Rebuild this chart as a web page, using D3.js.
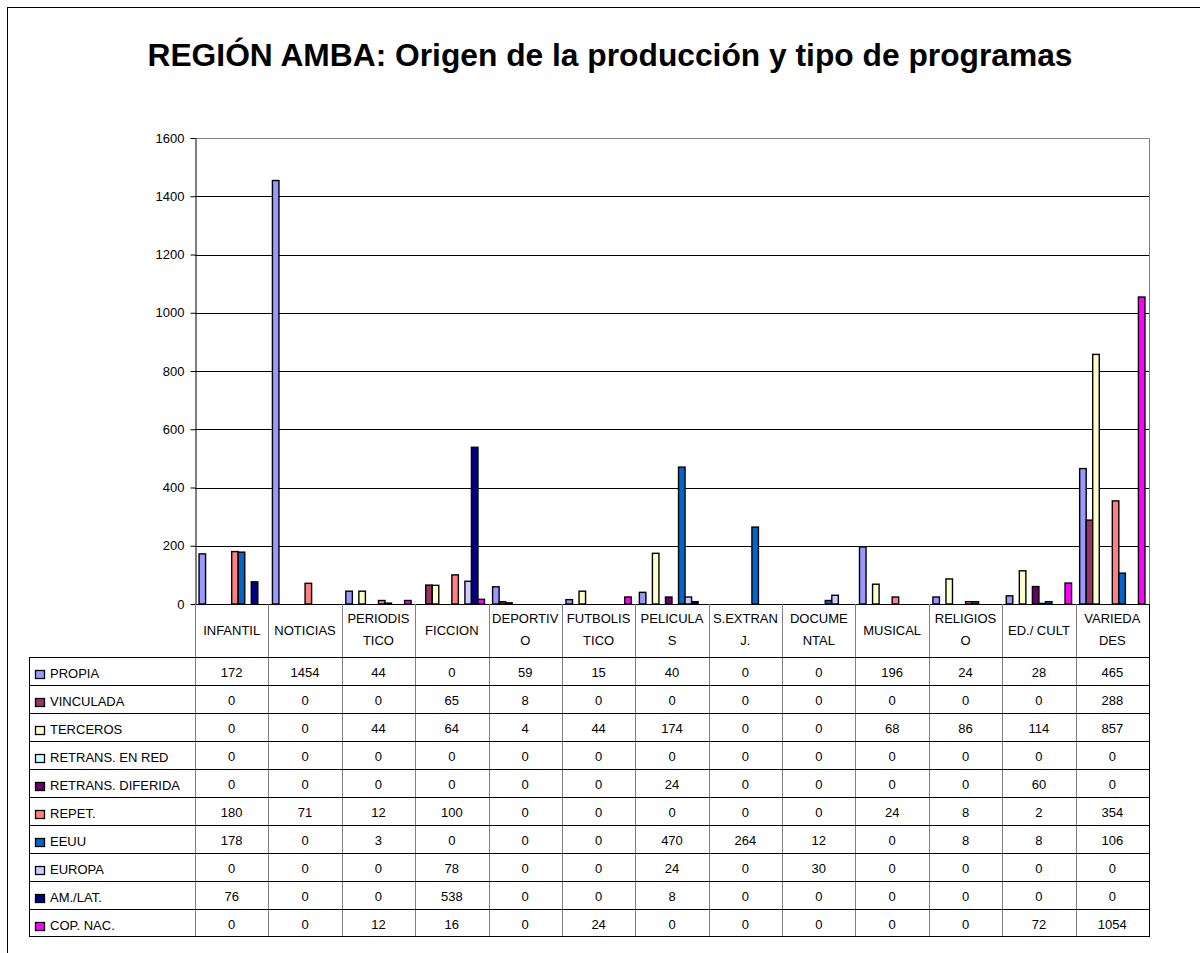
<!DOCTYPE html>
<html>
<head>
<meta charset="utf-8">
<script src="https://cdn.jsdelivr.net/npm/d3@7"></script>
<style>
  body { margin: 0; background: #fff; }
  text { font-family: "Liberation Sans", Arial, sans-serif; }
</style>
</head>
<body>
<div id="chart"></div>
<script>
var categories = ["INFANTIL", "NOTICIAS", "PERIODISTICO", "FICCION", "DEPORTIVO", "FUTBOLISTICO",
  "PELICULAS", "S.EXTRANJ.", "DOCUMENTAL", "MUSICAL", "RELIGIOSO", "ED./ CULT", "VARIEDADES"];
var categoryLines = [["INFANTIL"], ["NOTICIAS"], ["PERIODIS", "TICO"], ["FICCION"], ["DEPORTIV", "O"],
  ["FUTBOLIS", "TICO"], ["PELICULA", "S"], ["S.EXTRAN", "J."], ["DOCUME", "NTAL"], ["MUSICAL"],
  ["RELIGIOS", "O"], ["ED./ CULT"], ["VARIEDA", "DES"]];

var seriesNames = ["PROPIA", "VINCULADA", "TERCEROS", "RETRANS. EN RED", "RETRANS. DIFERIDA",
  "REPET.", "EEUU", "EUROPA", "AM./LAT.", "COP. NAC."];
var seriesColors = ["#9999ff", "#993366", "#ffffcc", "#ccffff", "#660066",
  "#ff8080", "#0066cc", "#ccccff", "#000080", "#ff00ff"];

var propia = [172, 1454, 44, 0, 59, 15, 40, 0, 0, 196, 24, 28, 465];
var vinculada = [0, 0, 0, 65, 8, 0, 0, 0, 0, 0, 0, 0, 288];
var terceros = [0, 0, 44, 64, 4, 44, 174, 0, 0, 68, 86, 114, 857];
var retransRed = [0, 0, 0, 0, 0, 0, 0, 0, 0, 0, 0, 0, 0];
var retransDiferida = [0, 0, 0, 0, 0, 0, 24, 0, 0, 0, 0, 60, 0];
var repet = [180, 71, 12, 100, 0, 0, 0, 0, 0, 24, 8, 2, 354];
var eeuu = [178, 0, 3, 0, 0, 0, 470, 264, 12, 0, 8, 8, 106];
var europa = [0, 0, 0, 78, 0, 0, 24, 0, 30, 0, 0, 0, 0];
var amLat = [76, 0, 0, 538, 0, 0, 8, 0, 0, 0, 0, 0, 0];
var copNac = [0, 0, 12, 16, 0, 24, 0, 0, 0, 0, 0, 72, 1054];

var yTicks = [0, 200, 400, 600, 800, 1000, 1200, 1400, 1600];

var allSeries = [propia, vinculada, terceros, retransRed, retransDiferida, repet, eeuu, europa, amLat, copNac];

// page and plot area
var svgWidth = 1200;
var svgHeight = 953;
var plot = { left: 195, right: 1149, top: 138, bottom: 604 };
var tableLeft = 29;
var headerBottom = 657;
var rowHeight = 28;
var fontSize = 13;

var svg = d3.select("#chart")
  .append("svg")
  .attr("width", svgWidth)
  .attr("height", svgHeight);

// outer chart frame (runs off the right and bottom of the picture)
svg.append("rect")
  .attr("x", 7.5)
  .attr("y", 7.5)
  .attr("width", 1220)
  .attr("height", 980)
  .attr("fill", "#fff")
  .attr("stroke", "#000")
  .attr("stroke-width", 1);

// title
var title = svg.append("text")
  .attr("x", 610)
  .attr("y", 66)
  .attr("text-anchor", "middle")
  .attr("font-weight", "bold")
  .attr("font-size", 26)
  .text("REGIÓN AMBA: Origen de la producción y tipo de programas");
// fit the title to its width in the reference
var tw = title.node().getComputedTextLength();
title.attr("font-size", 26 * 925 / tw);

// scales
var xScale = d3.scaleBand()
  .domain(categories)
  .range([plot.left, plot.right])
  .padding(0);

var xInner = d3.scaleBand()
  .domain(d3.range(seriesNames.length))
  .range([0, xScale.bandwidth()])
  .paddingInner(0)
  .paddingOuter(0.62);

var yScale = d3.scaleLinear()
  .domain([0, 1600])
  .range([plot.bottom, plot.top]);

// gridlines
svg.append("g")
  .selectAll("line")
  .data(yTicks.filter(d => d > 0 && d < 1600))
  .enter()
  .append("line")
  .attr("x1", plot.left)
  .attr("x2", plot.right)
  .attr("y1", d => Math.round(yScale(d)) + 0.5)
  .attr("y2", d => Math.round(yScale(d)) + 0.5)
  .attr("stroke", "#000");

// plot area border (top and right, gray)
svg.append("path")
  .attr("d", `M${plot.left},${plot.top + 0.5}H${plot.right + 0.5}V${plot.bottom}`)
  .attr("fill", "none")
  .attr("stroke", "#808080");

// bars
var barGroups = svg.append("g")
  .selectAll("g")
  .data(allSeries)
  .enter()
  .append("g")
  .attr("fill", (d, i) => seriesColors[i]);

barGroups.each(function(values, si) {
  d3.select(this).selectAll("rect")
    .data(values.map((v, ci) => ({ v: v, c: categories[ci] })).filter(d => d.v > 0))
    .enter()
    .append("rect")
    .attr("x", d => xScale(d.c) + xInner(si))
    .attr("y", d => yScale(d.v))
    .attr("width", xInner.bandwidth())
    .attr("height", d => Math.max(0.5, yScale(0) - yScale(d.v)))
    .attr("stroke", "#000")
    .attr("stroke-width", 1.4);
});

// y axis
var leftAxis = d3.axisLeft(yScale)
  .tickValues(yTicks)
  .tickSize(5)
  .tickSizeOuter(0)
  .tickPadding(6)
  .tickFormat(d3.format("d"));

var yAxis = svg.append("g")
  .attr("transform", `translate(${plot.left + 0.5}, 0)`)
  .call(leftAxis);
yAxis.selectAll("text")
  .attr("font-size", fontSize)
  .attr("font-family", "Liberation Sans, Arial, sans-serif")
  .attr("fill", "#000");
yAxis.selectAll("line, path").attr("stroke", "#000");

// x axis line
svg.append("line")
  .attr("x1", plot.left)
  .attr("x2", plot.right)
  .attr("y1", plot.bottom + 0.5)
  .attr("y2", plot.bottom + 0.5)
  .attr("stroke", "#000");

// data table
var table = svg.append("g");
var tableBottom = headerBottom + rowHeight * seriesNames.length - 1;

// vertical separators (gray)
var boundaries = categories.map(c => xScale(c)).concat([plot.right]);
table.selectAll("line.v")
  .data(boundaries)
  .enter()
  .append("line")
  .attr("class", "v")
  .attr("x1", d => Math.round(d) + 0.5)
  .attr("x2", d => Math.round(d) + 0.5)
  .attr("y1", plot.bottom)
  .attr("y2", tableBottom)
  .attr("stroke", (d, i) => i === boundaries.length - 1 ? "#000" : "#808080");

table.append("line")
  .attr("x1", tableLeft + 0.5)
  .attr("x2", tableLeft + 0.5)
  .attr("y1", headerBottom)
  .attr("y2", tableBottom)
  .attr("stroke", "#000");

// horizontal rules
var ruleYs = d3.range(seriesNames.length).map(d => headerBottom + d * rowHeight).concat([tableBottom]);
table.selectAll("line.h")
  .data(ruleYs)
  .enter()
  .append("line")
  .attr("class", "h")
  .attr("x1", tableLeft)
  .attr("x2", plot.right + 1)
  .attr("y1", d => d + 0.5)
  .attr("y2", d => d + 0.5)
  .attr("stroke", "#000");

// category labels in header row
var header = table.selectAll("text.cat")
  .data(categoryLines)
  .enter()
  .append("text")
  .attr("class", "cat")
  .attr("text-anchor", "middle")
  .attr("font-size", fontSize)
  .attr("x", (d, i) => xScale(categories[i]) + xScale.bandwidth() / 2)
  .attr("y", d => d.length === 1 ? 635 : 623);

header.selectAll("tspan")
  .data(d => d)
  .enter()
  .append("tspan")
  .attr("x", function() { return d3.select(this.parentNode).attr("x"); })
  .attr("dy", (d, i) => i === 0 ? 0 : 22)
  .text(d => d);

// legend column + values
var rows = table.selectAll("g.row")
  .data(allSeries)
  .enter()
  .append("g")
  .attr("class", "row")
  .attr("transform", (d, i) => `translate(0, ${headerBottom + i * rowHeight})`);

rows.append("rect")
  .attr("x", 35.5)
  .attr("y", 13.5)
  .attr("width", 9)
  .attr("height", 8)
  .attr("fill", (d, i) => seriesColors[i])
  .attr("stroke", "#000")
  .attr("stroke-width", 1.3);

rows.append("text")
  .attr("x", 50)
  .attr("y", 21)
  .attr("font-size", fontSize)
  .text((d, i) => seriesNames[i]);

rows.selectAll("text.val")
  .data(d => d)
  .enter()
  .append("text")
  .attr("class", "val")
  .attr("text-anchor", "middle")
  .attr("font-size", fontSize)
  .attr("x", (d, i) => xScale(categories[i]) + xScale.bandwidth() / 2)
  .attr("y", 20)
  .text(d => d);
</script>
</body>
</html>
